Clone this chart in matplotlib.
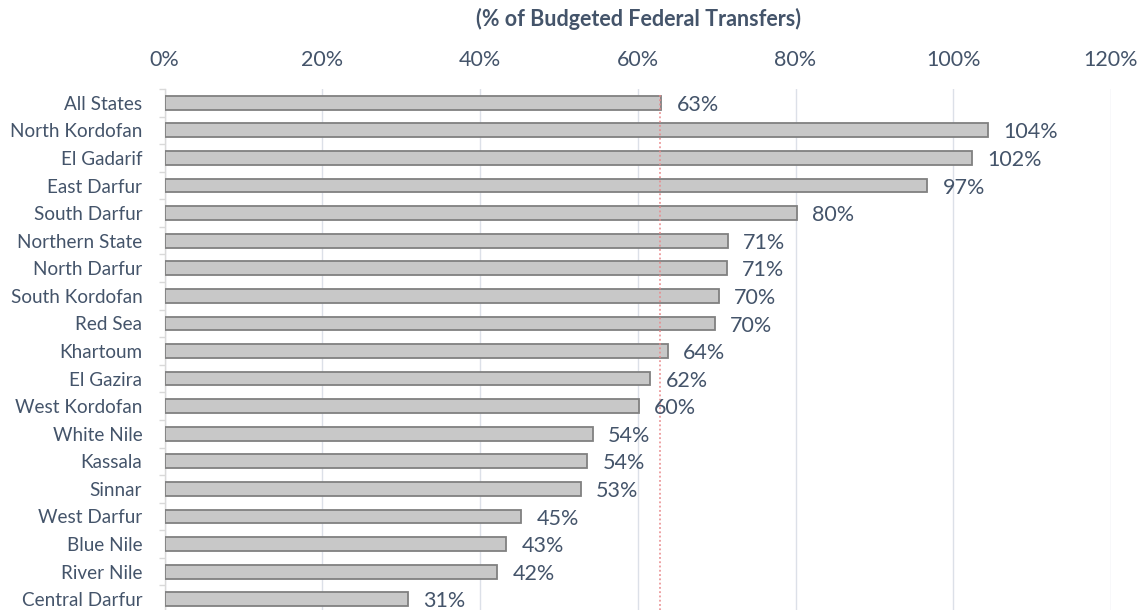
import matplotlib
matplotlib.use("Agg")
import matplotlib.pyplot as plt
from matplotlib.ticker import FixedLocator, PercentFormatter

states = ["All States", "North Kordofan", "El Gadarif", "East Darfur", "South Darfur",
          "Northern State", "North Darfur", "South Kordofan", "Red Sea", "Khartoum",
          "El Gazira", "West Kordofan", "White Nile", "Kassala", "Sinnar",
          "West Darfur", "Blue Nile", "River Nile", "Central Darfur"]
values = [63.0, 104.4, 102.4, 96.7, 80.2, 71.4, 71.3, 70.3, 69.8, 63.8,
          61.6, 60.1, 54.3, 53.6, 52.8, 45.2, 43.3, 42.2, 30.9]
average = 62.8
xticks = [0, 20, 40, 60, 80, 100, 120]
title = "(% of Budgeted Federal Transfers)"

TXT = "#44546A"
plt.rcParams['font.family'] = ['Lato', 'DejaVu Sans']

fig = plt.figure(figsize=(11.4, 6.1), dpi=100)
ax = fig.add_axes([164.5/1140, 1 - 613/610, (1111 - 164.5)/1140, (613 - 89)/610])

y = list(range(len(states)))
ax.barh(y, values, height=0.5, color="#C8C8C8", edgecolor="#808080", linewidth=1.3, zorder=3)
for yi, v in zip(y, values):
    ax.annotate(f"{v:.0f}%", (v, yi), xytext=(11, -1.5), textcoords="offset points",
                va="center", ha="left", fontsize=15.5, color=TXT, zorder=5)

ax.vlines(average, -0.27, len(states) + 0.5, colors="#E8888A", linestyles=(0, (1.2, 1.6)),
          linewidth=1.1, zorder=4)

ax.set_xlim(0, 120)
ax.set_ylim(len(states) - 0.5, -0.5)
ax.xaxis.set_major_locator(FixedLocator(xticks))
ax.xaxis.set_major_formatter(PercentFormatter(decimals=0))
ax.xaxis.tick_top()
ax.tick_params(axis='x', length=0, pad=14, labelsize=15.5, labelcolor=TXT)
ax.grid(axis='x', color="#DCE0E8", linewidth=1.0, zorder=0)

ax.set_yticks(y)
ax.set_yticklabels(states)
ax.set_yticks([i - 0.5 for i in range(len(states) + 1)], minor=True)
ax.tick_params(axis='y', which='major', length=0, pad=16, labelsize=13.6, labelcolor=TXT)
ax.tick_params(axis='y', which='minor', length=4, width=1, color="#D9D9D9")

for s in ["top", "right", "bottom"]:
    ax.spines[s].set_visible(False)
ax.spines["left"].set_color("#D9D9D9")
ax.spines["left"].set_linewidth(1)

fig.text(638/1140, 1 - 19/610, title, ha="center", va="center", fontsize=15.5,
         fontweight="bold", color=TXT)

fig.savefig("out.png", dpi=100)
